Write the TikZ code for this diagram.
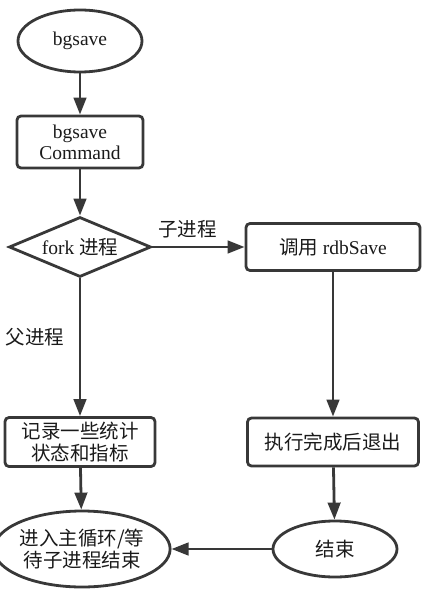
\documentclass[tikz,border=0pt]{standalone}
\usepackage{fontspec}
\setmainfont{Liberation Serif}
\newfontfamily\cjk{Noto Sans CJK SC}
\usetikzlibrary{shapes.geometric,arrows.meta}
\definecolor{lc}{HTML}{383838}
\definecolor{tc}{HTML}{1A1A1A}
\tikzset{
  x=1pt,y=-1pt,
  base/.style={draw=lc,line width=2.8pt,text=tc,font=\fontsize{19.5}{21}\selectfont,align=center,inner sep=0pt},
  boxnode/.style={base,rectangle,rounded corners=4pt},
  ovalnode/.style={base,ellipse},
  decnode/.style={base,diamond,aspect=2.37},
  arr/.style={draw=lc,line width=2.8pt,-{Triangle[length=17pt,width=12.5pt]}},
  lbl/.style={text=tc,font=\fontsize{19.5}{21}\selectfont\cjk,inner sep=0pt},
  cjkfont/.style={font=\fontsize{19.5}{22}\selectfont\cjk}
}
\begin{document}
\begin{tikzpicture}
\useasboundingbox (0,0) rectangle (429,591);
\node[ovalnode,minimum width=124pt,minimum height=62pt] (e1) at (80,41) {bgsave};
\node[boxnode,minimum width=126pt,minimum height=52pt] (b1) at (80,142) {bgsave\\Command};
\node[decnode,minimum width=142pt,minimum height=60pt] (d) at (80,247) {fork {\cjk 进程}};
\node[boxnode,minimum width=174pt,minimum height=47pt] (r1) at (333,247) {{\cjk 调用} rdbSave};
\node[boxnode,cjkfont,minimum width=150pt,minimum height=49pt] (l2) at (80,442) {记录一些统计\\状态和指标};
\node[boxnode,cjkfont,minimum width=171pt,minimum height=48pt] (r2) at (333,442) {执行完成后退出};
\node[ovalnode,cjkfont,minimum width=150pt,minimum height=76pt] (e2) at (82,549) {进入主循环/等\\待子进程结束};
\node[ovalnode,cjkfont,minimum width=124pt,minimum height=56pt] (e3) at (335,549) {结束};
\draw[arr] (e1) -- (b1);
\draw[arr] (b1) -- (d);
\draw[arr] (d) -- node[lbl,above=8pt,pos=0.38] (t1) {子进程} (r1);
\draw[arr] (d) -- (l2);
\node[lbl] (t2) at (35,337) {父进程};
\draw[arr] (r1) -- (r2);
\draw[arr] (l2) -- (e2);
\draw[arr] (r2) -- (e3);
\draw[arr] (e3) -- (e2);
\end{tikzpicture}
\end{document}
